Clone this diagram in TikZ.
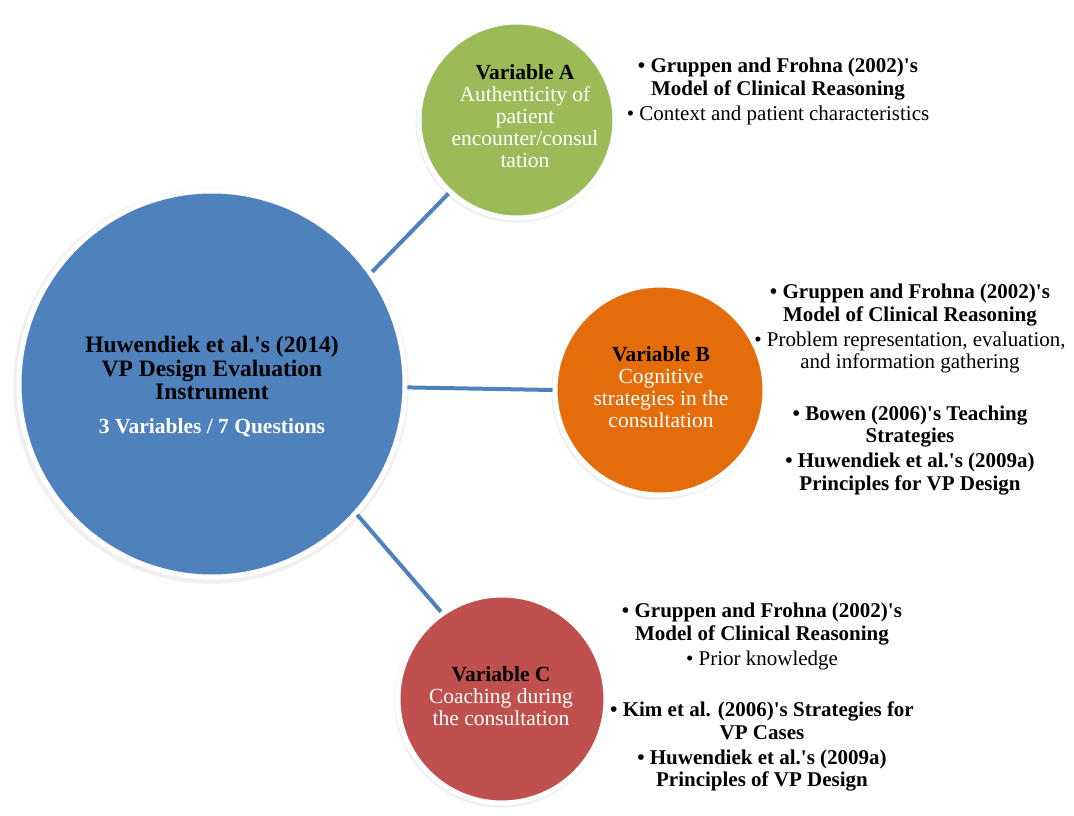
\documentclass[tikz,border=0pt]{standalone}
\usepackage{fontspec}
\setmainfont{Liberation Serif}[Ligatures=TeXOff]
\usetikzlibrary{shadows}
\definecolor{vp-blue}{HTML}{4F81BD}
\definecolor{vp-green}{HTML}{9BBB59}
\definecolor{vp-orange}{HTML}{E46C0A}
\definecolor{vp-red}{HTML}{C0504D}
\tikzset{
  var-circle/.style 2 args={
    circle,
    fill=#1,
    draw=white,
    line width=5pt,
    minimum size=#2,
    inner sep=0pt,
    drop shadow={opacity=0.12, shadow scale=1.025, shadow xshift=-1pt, shadow yshift=-2pt}},
  circle-label/.style={align=center, inner sep=0pt, text=white, font=\fontsize{21.5}{22}\selectfont},
  main-label/.style={align=center, inner sep=0pt, font=\fontsize{23.5}{23.5}\selectfont\bfseries},
  source-list/.style={align=center, inner sep=0pt, anchor=north, font=\fontsize{21}{22.5}\selectfont},
  link-path/.style={draw=vp-blue, line width=4pt},
}
\newcommand{\varname}[1]{\textcolor{black}{\textbf{#1}}}

\begin{document}
\begin{tikzpicture}[x=1pt, y=-1pt]
\useasboundingbox (0,0) rectangle (1074,816);
% circles
\node[var-circle={vp-blue}{386pt}] (instrument) at (212,384) {};
\node[var-circle={vp-green}{196pt}] (var-a) at (517,120) {};
\node[var-circle={vp-orange}{210pt}] (var-b) at (660,390) {};
\node[var-circle={vp-red}{208pt}] (var-c) at (502,699) {};
% connectors
\draw[link-path] (instrument.35) -- (var-a.227);
\draw[link-path] (instrument.-1.5) -- (var-b.180.5);
\draw[link-path] (instrument.-42) -- (var-c.125);
% circle texts
\node[main-label] (instrument-label) at (212,386.5) {Huwendiek et al.'s (2014)\\VP Design Evaluation\\Instrument\\[10pt]
  \textcolor{white}{\fontsize{21.5}{22}\selectfont 3 Variables / 7 Questions}};
\node[circle-label] (var-a-label) at (525,116) {\varname{Variable A}\\Authenticity of\\patient\\encounter/consul\\tation};
\node[circle-label] (var-b-label) at (661,387.5) {\varname{Variable B}\\Cognitive\\strategies in the\\consultation};
\node[circle-label] (var-c-label) at (501,696.5) {\varname{Variable C}\\Coaching during\\the consultation};
% sources
\node[source-list] (var-a-sources) at (778,58) {\textbf{• Gruppen and Frohna (2002)'s}\\\textbf{Model of Clinical Reasoning}\\[2.5pt]
  • Context and patient characteristics};
\node[source-list] (var-b-sources) at (910,284) {\textbf{• Gruppen and Frohna (2002)'s}\\\textbf{Model of Clinical Reasoning}\\[2.5pt]
  • Problem representation, evaluation,\\and information gathering\\[29pt]
  \textbf{• Bowen (2006)'s Teaching}\\\textbf{Strategies}\\[2.5pt]
  \textbf{• Huwendiek et al.'s (2009a)}\\\textbf{Principles for VP Design}};
\node[source-list] (var-c-sources) at (762,603) {\textbf{• Gruppen and Frohna (2002)'s}\\\textbf{Model of Clinical Reasoning}\\[2.5pt]
  • Prior knowledge\\[29pt]
  \textbf{• Kim et al. (2006)'s Strategies for}\\\textbf{VP Cases}\\[2.5pt]
  \textbf{• Huwendiek et al.'s (2009a)}\\\textbf{Principles of VP Design}};
\end{tikzpicture}
\end{document}
